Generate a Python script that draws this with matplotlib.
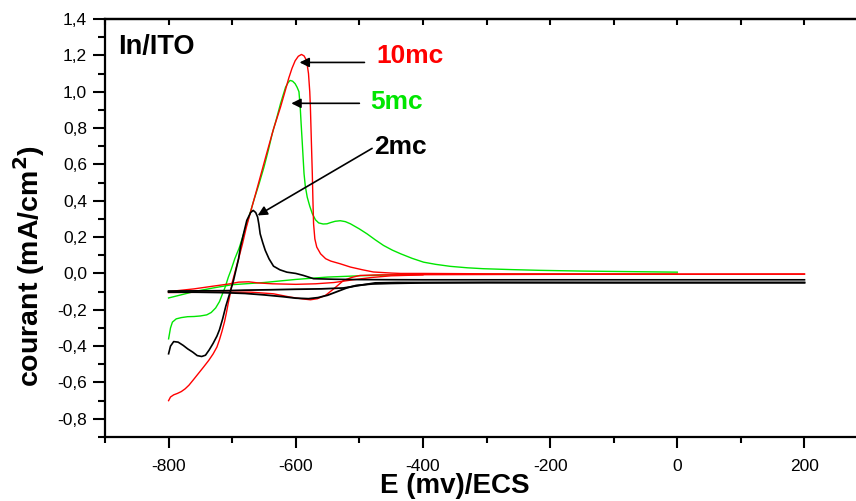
import matplotlib.pyplot as plt
from matplotlib.ticker import MultipleLocator, FuncFormatter

plt.rcParams['font.family'] = ['Liberation Sans', 'DejaVu Sans']
plt.rcParams['axes.unicode_minus'] = False

# potentials (mV vs ECS) and current densities (mA/cm2), one array per branch
red_fwd_E = [200, 0, -200, -400, -470, -499, -512, -525, -540, -553, -566, -577, -590, -609,
             -635, -671, -720, -760, -800]
red_fwd_I = [-0.003, -0.004, -0.005, -0.007, -0.008, -0.011, -0.022, -0.039, -0.084, -0.12,
             -0.139, -0.145, -0.14, -0.13, -0.112, -0.103, -0.103, -0.104, -0.105]
red_rev_E = [-800, -797, -792, -786, -780, -774, -768, -761, -753, -745, -737, -730, -724,
             -720, -716, -712, -709, -706, -703, -700, -695, -690, -684, -678, -671, -663,
             -654, -645, -635, -624, -617, -611, -606, -601, -596, -591, -587, -583, -580,
             -578, -577, -575.5, -574, -573, -572, -570, -567, -561, -553, -545, -530, -514,
             -495, -478, -450, -435, -400, -300, -200, -100, 0, 100, 200]
red_rev_I = [-0.7, -0.68, -0.668, -0.66, -0.65, -0.635, -0.615, -0.585, -0.55, -0.515, -0.479,
             -0.443, -0.405, -0.365, -0.318, -0.265, -0.215, -0.16, -0.11, -0.05, 0.015, 0.08,
             0.16, 0.25, 0.34, 0.44, 0.555, 0.67, 0.795, 0.915, 1.0, 1.075, 1.128, 1.17, 1.195,
             1.205, 1.197, 1.172, 1.1, 1.0, 0.915, 0.73, 0.549, 0.4, 0.273, 0.19, 0.145, 0.108,
             0.081, 0.068, 0.053, 0.035, 0.02, 0.008, 0.002, 0.0, 0.0, -0.002, -0.003, -0.003,
             -0.004, -0.004, -0.004]
red_mid_E = [-800, -760, -730, -705, -690, -674, -660, -637, -600, -569, -540, -510, -480,
             -450, -400]
red_mid_I = [-0.1, -0.085, -0.07, -0.058, -0.048, -0.046, -0.052, -0.057, -0.06, -0.057,
             -0.05, -0.035, -0.022, -0.013, -0.008]

green_fwd_E = [0, -200, -350, -400, -450, -500, -550, -600, -650, -700, -730, -760, -800]
green_fwd_I = [-0.004, -0.004, -0.004, -0.005, -0.008, -0.013, -0.02, -0.033, -0.05, -0.062,
               -0.08, -0.1, -0.135]
green_rev_E = [-800, -797, -794, -788, -780, -770, -760, -750, -740, -733, -726, -720, -715,
               -711, -706, -702, -696, -689, -680, -672, -666, -658, -650, -643, -637, -630,
               -624, -620, -616, -612, -609, -605, -601, -598, -595, -593, -591.5, -590,
               -588.5, -587, -585, -582, -578, -574, -569, -564, -557, -551, -545, -538, -530,
               -522, -514, -500, -488, -475, -462, -448, -435, -417, -399, -380, -357, -330,
               -305, -260, -216, -150, -100, -50, 0]
green_rev_I = [-0.36, -0.3, -0.268, -0.25, -0.243, -0.238, -0.237, -0.234, -0.228, -0.215,
               -0.19, -0.155, -0.11, -0.075, -0.02, 0.017, 0.08, 0.14, 0.24, 0.33, 0.402, 0.49,
               0.585, 0.68, 0.769, 0.855, 0.934, 0.98, 1.025, 1.05, 1.062, 1.058, 1.044, 1.025,
               1.0, 0.915, 0.82, 0.732, 0.64, 0.549, 0.48, 0.42, 0.37, 0.329, 0.295, 0.278,
               0.272, 0.273, 0.28, 0.287, 0.29, 0.285, 0.273, 0.245, 0.218, 0.185, 0.154, 0.128,
               0.108, 0.083, 0.062, 0.05, 0.039, 0.031, 0.026, 0.021, 0.017, 0.013, 0.011, 0.009,
               0.007]

black_fwd_E = [200, 100, 0, -100, -200, -300, -400, -450, -480, -505, -520, -535, -550, -565,
               -580, -600, -620, -650, -680, -720, -760, -800]
black_fwd_I = [-0.05, -0.05, -0.05, -0.05, -0.05, -0.05, -0.052, -0.055, -0.058, -0.066, -0.08,
               -0.1, -0.12, -0.133, -0.139, -0.136, -0.128, -0.118, -0.11, -0.105, -0.103,
               -0.103]
black_rev_E = [-800, -797, -792, -785, -777, -770, -762, -755, -748, -742, -736, -730, -724,
               -720, -715, -710, -703, -698, -694, -690, -687, -682, -677, -671, -667, -663,
               -660, -658, -656, -652, -648, -642, -635, -625, -614, -600, -588, -572, -540,
               -500, -400, -300, -200, -100, 0, 100, 200]
black_rev_I = [-0.442, -0.4, -0.375, -0.378, -0.396, -0.415, -0.433, -0.452, -0.457, -0.45,
               -0.42, -0.385, -0.345, -0.31, -0.25, -0.18, -0.1, -0.04, 0.02, 0.08, 0.145,
               0.22, 0.292, 0.335, 0.347, 0.335, 0.31, 0.27, 0.218, 0.17, 0.127, 0.08, 0.04,
               0.02, 0.007, 0.0, -0.011, -0.029, -0.032, -0.034, -0.035, -0.035, -0.035,
               -0.035, -0.035, -0.035, -0.035]
black_mid_E = [-800, -750, -710, -680, -640, -600, -560, -525, -500, -475, -440, -300, -100,
               100, 200]
black_mid_I = [-0.097, -0.096, -0.095, -0.092, -0.09, -0.087, -0.085, -0.08, -0.066, -0.052,
               -0.05, -0.05, -0.051, -0.051, -0.051]

fig = plt.figure(figsize=(8.56, 5.01), dpi=100)
ax = fig.add_axes([105 / 856, 64 / 501, 751 / 856, 418 / 501])

ax.plot(green_fwd_E, green_fwd_I, color='#00e600', lw=1.0)
ax.plot(green_rev_E, green_rev_I, color='#00e600', lw=1.0)
ax.plot(red_fwd_E, red_fwd_I, color='red', lw=1.0)
ax.plot(red_mid_E, red_mid_I, color='red', lw=1.0)
ax.plot(red_rev_E, red_rev_I, color='red', lw=1.0)
ax.plot(black_fwd_E, black_fwd_I, color='black', lw=1.3)
ax.plot(black_mid_E, black_mid_I, color='black', lw=1.3)
ax.plot(black_rev_E, black_rev_I, color='black', lw=1.2)

ax.set_xlim(-900, 281)
ax.set_ylim(-0.9, 1.4)

ax.spines['right'].set_visible(False)
for s in ['left', 'bottom', 'top']:
    ax.spines[s].set_linewidth(1.6)

ax.xaxis.set_major_locator(MultipleLocator(200))
ax.xaxis.set_minor_locator(MultipleLocator(100))
ax.yaxis.set_major_locator(MultipleLocator(0.2))
ax.yaxis.set_minor_locator(MultipleLocator(0.1))
ax.yaxis.set_major_formatter(FuncFormatter(lambda v, p: f"{v:.1f}".replace('.', ',').replace('-0,0', '0,0')))
ax.xaxis.set_major_formatter(FuncFormatter(lambda v, p: f"{v:.0f}"))

ax.tick_params(axis='x', which='major', direction='out', length=8, width=1.5, labelsize=12.5, pad=8)
ax.tick_params(axis='x', which='minor', direction='out', length=4, width=1.5)
ax.tick_params(axis='y', which='major', direction='out', length=9, width=1.5, labelsize=12.5, pad=4)
ax.tick_params(axis='y', which='minor', direction='out', length=5, width=1.5)

# inward ticks along the top edge, no labels
top = ax.secondary_xaxis('top')
top.spines['top'].set_linewidth(1.6)
top.xaxis.set_major_locator(MultipleLocator(100))
top.tick_params(axis='x', which='both', direction='in', length=4, width=1.5, labeltop=False)

arrow = dict(arrowstyle='-|>', color='black', lw=1.2, mutation_scale=14, shrinkA=0, shrinkB=0)
ax.annotate('', xy=(-594, 1.161), xytext=(-492, 1.161), arrowprops=arrow)
ax.annotate('', xy=(-607, 0.936), xytext=(-500, 0.936), arrowprops=arrow)
ax.annotate('', xy=(-660, 0.319), xytext=(-480, 0.688), arrowprops=arrow)

ax.text(-473, 1.194, '10mc', color='red', fontsize=19, fontweight='bold', ha='left', va='center')
ax.text(-483, 0.941, '5mc', color='#00e600', fontsize=19, fontweight='bold', ha='left', va='center')
ax.text(-476, 0.693, '2mc', color='black', fontsize=19, fontweight='bold', ha='left', va='center')
ax.text(-879, 1.244, 'In/ITO', color='black', fontsize=19.5, fontweight='bold', ha='left', va='center')

fig.text(29 / 856, 1 - 266 / 501, r'courant (mA/cm$^{\mathbf{2}}$)', rotation=90,
         fontsize=20.5, fontweight='bold', ha='center', va='center')
fig.text(455 / 856, 1 - 486 / 501, 'E (mv)/ECS', fontsize=20, fontweight='bold',
         ha='center', va='center')

fig.savefig('out.png', dpi=100)
